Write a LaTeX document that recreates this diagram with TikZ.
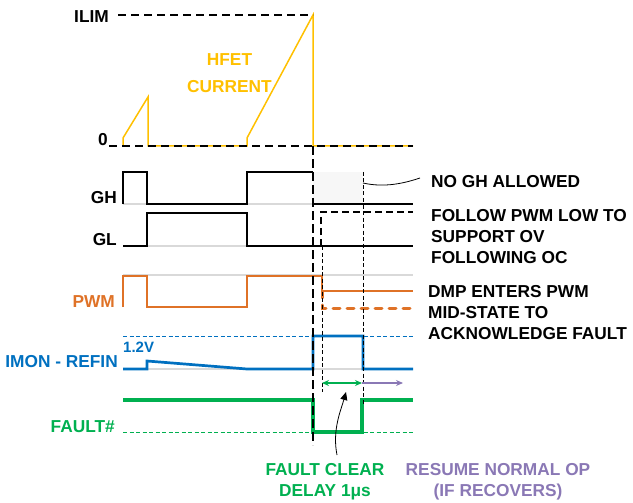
\documentclass[tikz,border=0pt]{standalone}
\usepackage{fontspec}
\setmainfont{Liberation Sans}
\usepackage{xcolor}
\usepackage{tikz}
\usetikzlibrary{arrows.meta}
\definecolor{hfet}{HTML}{FFC000}
\definecolor{pwmorange}{HTML}{DF7227}
\definecolor{imonblue}{HTML}{0070C0}
\definecolor{faultgreen}{HTML}{00B050}
\definecolor{resumepurple}{HTML}{8A78B5}

\begin{document}
\begin{tikzpicture}[x=1pt,y=-1pt]
            \tikzset{
                wave_label/.style={font=\fontsize{17.3}{21}\selectfont\bfseries, inner sep=0pt},
                gray_base/.style={black!15, line width=1.2pt},
                gate_line/.style={black, line width=1.2pt},
                limit_dash/.style={black, line width=2pt, dash pattern=on 8pt off 5pt},
                fault_dash/.style={black, line width=2.4pt, dash pattern=on 9pt off 4pt},
                edge_dash/.style={black, line width=1pt, dash pattern=on 4pt off 2.5pt}
            }
            \useasboundingbox (0,0) rectangle (633,503);
            \node[wave_label, anchor=east] (ILIM) at (109,17) {ILIM};
            \node[wave_label, anchor=east] (ZERO) at (108,140) {0};
            \node[wave_label, hfet, align=center, font=\fontsize{17.3}{27}\selectfont\bfseries] (HFET) at (229.5,73) {HFET\\CURRENT};
            \node[wave_label, anchor=east] (GH) at (117,198) {GH};
            \node[wave_label, anchor=east] (GL) at (117,240) {GL};
            \node[wave_label, pwmorange, anchor=east] (PWM) at (115,302) {PWM};
            \node[wave_label, imonblue, anchor=east] (IMON) at (118,362) {IMON - REFIN};
            \node[wave_label, imonblue, anchor=west, font=\fontsize{15}{18}\selectfont\bfseries] (VREF) at (123,347) {1.2V};
            \node[wave_label, faultgreen, anchor=east] (FAULT) at (115,427) {FAULT\#};
            \node[wave_label, anchor=west] (NOGH) at (431,182) {NO GH ALLOWED};
            \node[wave_label, anchor=west, align=left] (FOLLOW) at (431,237) {FOLLOW PWM LOW TO\\SUPPORT OV\\FOLLOWING OC};
            \node[wave_label, anchor=west, align=left] (DMP) at (428,313) {DMP ENTERS PWM\\MID-STATE TO\\ACKNOWLEDGE FAULT};
            \node[wave_label, faultgreen, align=center] (DELAY) at (325,482) {FAULT CLEAR\\DELAY 1μs};
            \node[wave_label, resumepurple, align=center] (RESUME) at (498,482) {RESUME NORMAL OP\\(IF RECOVERS)};
            \coordinate (BOX) at (363,183);
            \coordinate (TAIL) at (337,455);
            \coordinate (TIP) at (346,392);
            \coordinate (CLR) at (322,383);
            \coordinate (END) at (362,383);
            \coordinate (RES) at (403,383);
            \fill[black!3] (313,172) rectangle (363,204);
            \foreach \y/\x in {204/313, 204/413, 246/413, 275/413, 369/413}
                \draw[gray_base] (123,\y) -- (\x,\y);
            \draw[hfet, line width=1.5pt] (123,146) -- (123,138) -- (148,97) -- (148,146) -- (247,146) -- (247,138) -- (313,15) -- (313,146) -- (413,146);
            \draw[limit_dash] (118,15) -- (313,15);
            \draw[limit_dash] (109,146) -- (413,146);
            \draw[gate_line] (123,204) -- (123,172) -- (147,172) -- (147,204) -- (247,204) -- (247,172) -- (313,172);
            \draw[gate_line] (313,204) -- (413,204);
            \draw[gate_line] (123,246) -- (147,246) -- (147,213) -- (247,213) -- (247,246) -- (413,246);
            \draw[black, line width=1.8pt, dash pattern=on 7pt off 4pt] (321,246) -- (321,212) -- (413,212);
            \draw[pwmorange, line width=2.7pt] (123,307) -- (123,276) -- (147,276) -- (147,307) -- (247,307) -- (247,276) -- (322,276) -- (322,291) -- (413,291);
            \draw[pwmorange, line width=3pt, line cap=round, dash pattern=on 7pt off 7pt] (322,291) -- (322,308) -- (413,308);
            \draw[imonblue, line width=1pt, dash pattern=on 4pt off 2.5pt] (123,336) -- (413,336);
            \draw[imonblue, line width=2.7pt] (123,369) -- (147,369) -- (147,361) -- (247,369) -- (313,369) -- (313,336) -- (363,336) -- (363,369) -- (413,369);
            \draw[faultgreen, line width=1pt, dash pattern=on 4pt off 2.5pt] (123,432) -- (413,432);
            \draw[faultgreen, line width=3.3pt] (123,400) -- (313,400) -- (313,432) -- (362,432) -- (362,400) -- (413,400);
            \draw[fault_dash] (313,146) -- (313,445);
            \draw[edge_dash] (322,246) -- (322,392);
            \draw[edge_dash] (363,172) -- (363,405);
            \draw[faultgreen, line width=1.2pt, {Stealth[length=7pt,width=6pt]}-{Stealth[length=7pt,width=6pt]}] (CLR) -- (END);
            \draw[resumepurple, line width=1.2pt, -{Stealth[length=7pt,width=6pt]}] (END) -- (RES);
            \draw[black, line width=0.8pt] (BOX) .. controls (385,188) and (405,183) .. ([xshift=-11pt,yshift=4pt]NOGH.west);
            \draw[black, line width=0.8pt, -{Triangle[length=8pt,width=7pt]}] (TAIL) .. controls (332,430) and (341,410) .. (TIP);
        \end{tikzpicture}
\end{document}
